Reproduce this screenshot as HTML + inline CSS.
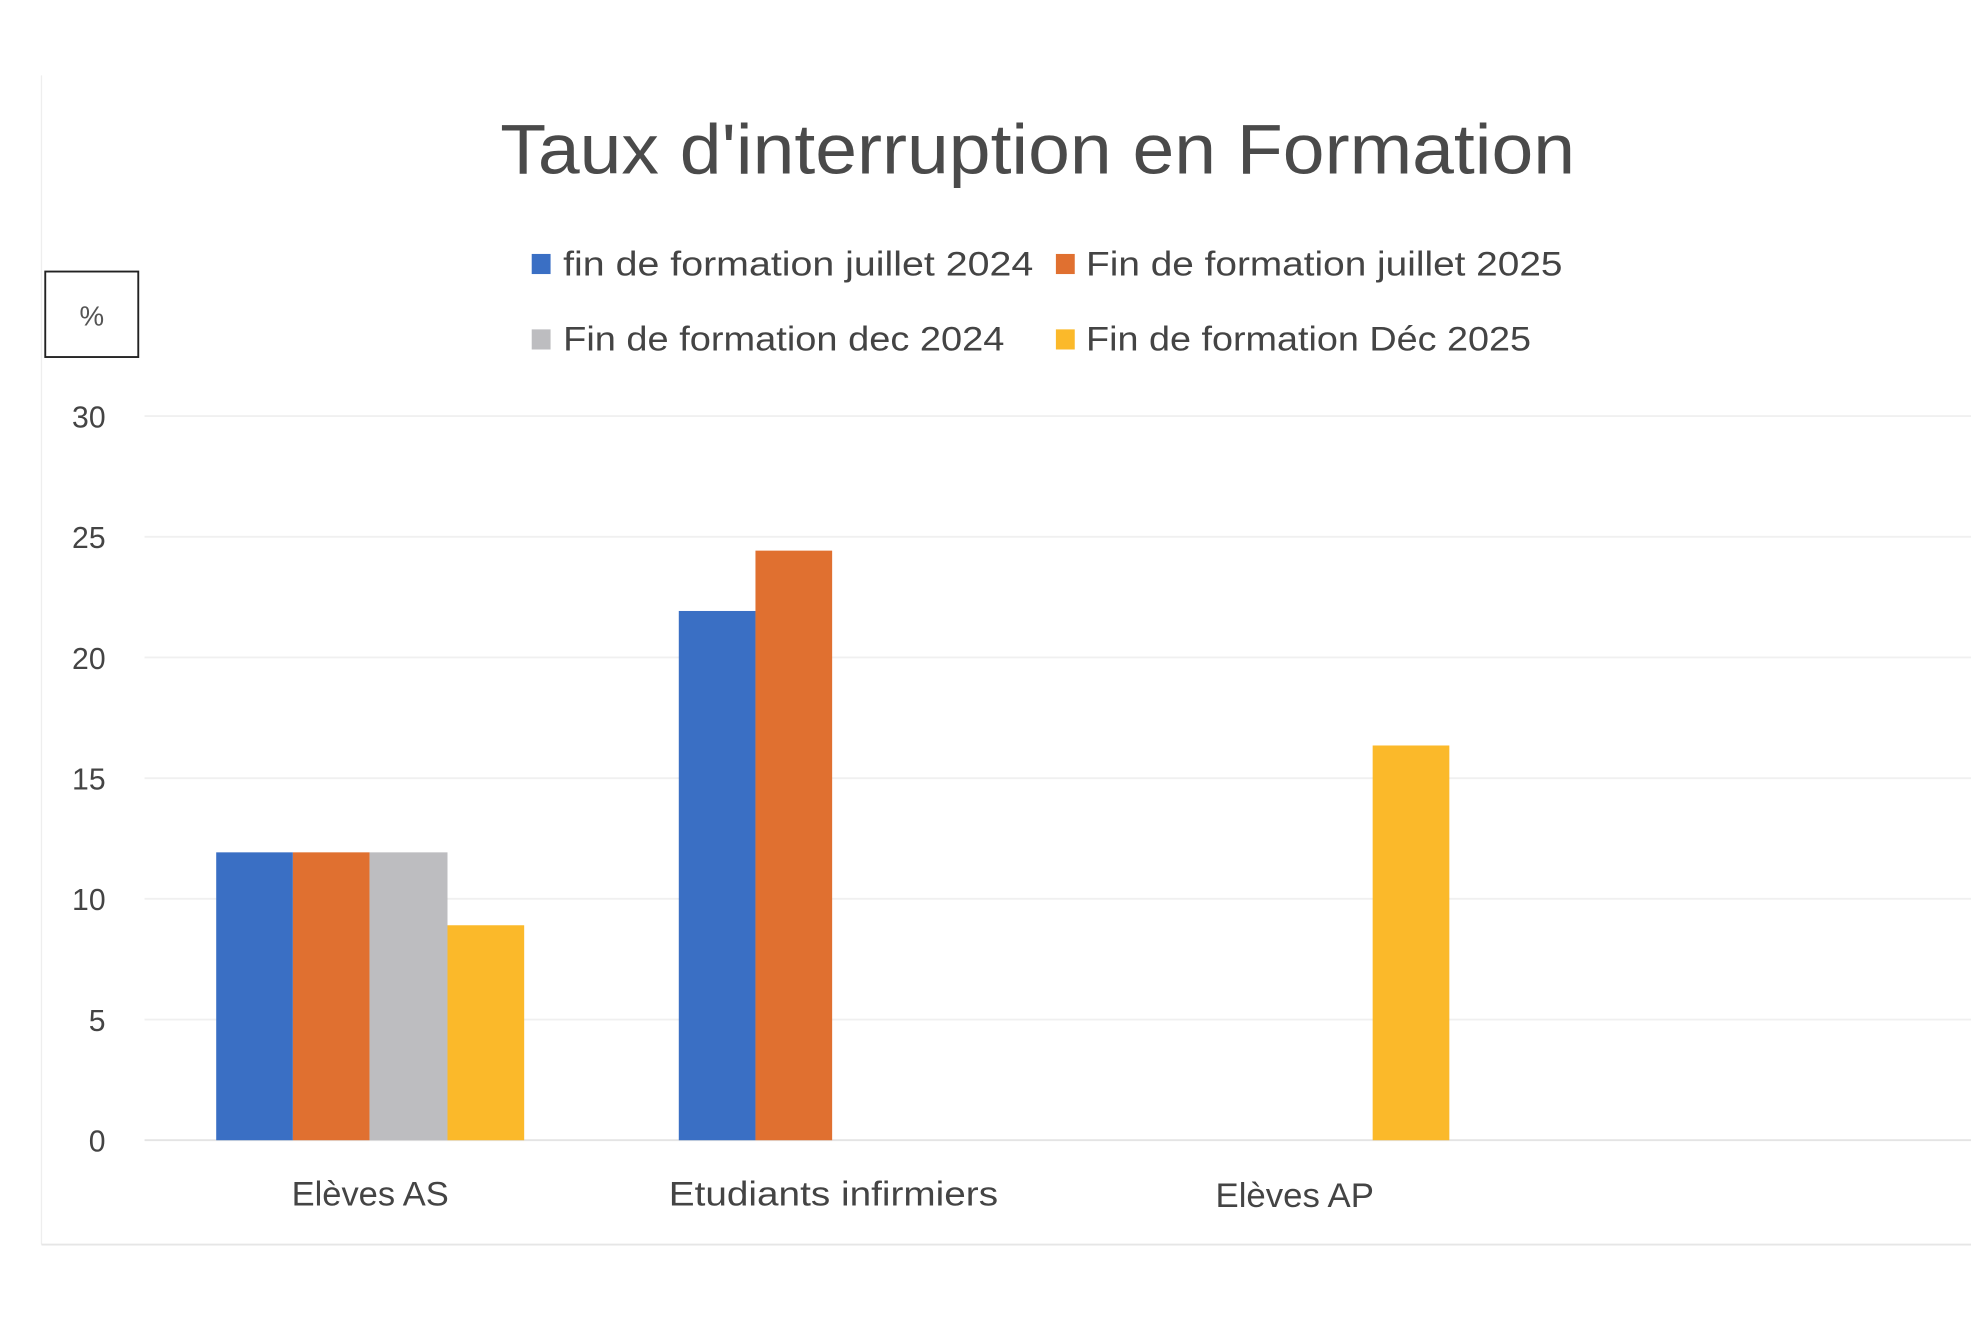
<!DOCTYPE html>
<html><head><meta charset="utf-8"><style>html,body{margin:0;padding:0;background:#fff}svg{display:block}</style></head>
<body>
<svg width="1971" height="1320" viewBox="0 0 1568 1050" preserveAspectRatio="none" xmlns="http://www.w3.org/2000/svg" font-family="Liberation Sans, DejaVu Sans, sans-serif">
<rect width="1568" height="1050" fill="#fff"/>
<line x1="33" y1="60" x2="33" y2="990" stroke="#eee" stroke-width="1"/>
<line x1="33" y1="990" x2="1568" y2="990" stroke="#e6e6e6" stroke-width="1.5"/>
<text x="398" y="138" font-size="56" fill="#4a4a4a" textLength="855" lengthAdjust="spacingAndGlyphs">Taux d'interruption en Formation</text>
<rect x="423" y="202" width="15" height="16" fill="#3a6fc4"/>
<text x="448" y="219" font-size="27" fill="#444" textLength="374" lengthAdjust="spacingAndGlyphs">fin de formation juillet 2024</text>
<rect x="840" y="202" width="15" height="16" fill="#e07030"/>
<text x="864" y="219" font-size="27" fill="#444" textLength="379" lengthAdjust="spacingAndGlyphs">Fin de formation juillet 2025</text>
<rect x="423" y="262" width="15" height="16" fill="#bdbdc0"/>
<text x="448" y="279" font-size="27" fill="#444" textLength="351" lengthAdjust="spacingAndGlyphs">Fin de formation dec 2024</text>
<rect x="840" y="262" width="15" height="16" fill="#fbb92a"/>
<text x="864" y="279" font-size="27" fill="#444" textLength="354" lengthAdjust="spacingAndGlyphs">Fin de formation Déc 2025</text>
<rect x="36" y="216" width="74" height="68" fill="none" stroke="#222" stroke-width="1.5"/>
<text x="73" y="259" font-size="22" fill="#555" text-anchor="middle">%</text>
<g stroke="#f0f0f0" stroke-width="1.5">
<line x1="115" y1="331" x2="1568" y2="331"/><line x1="115" y1="427" x2="1568" y2="427"/>
<line x1="115" y1="523" x2="1568" y2="523"/><line x1="115" y1="619" x2="1568" y2="619"/>
<line x1="115" y1="715" x2="1568" y2="715"/><line x1="115" y1="811" x2="1568" y2="811"/>
</g>
<line x1="115" y1="907" x2="1568" y2="907" stroke="#e4e4e4" stroke-width="1.5"/>
<g font-size="24" fill="#444" text-anchor="end">
<text x="84" y="340">30</text><text x="84" y="436">25</text><text x="84" y="532">20</text>
<text x="84" y="628">15</text><text x="84" y="724">10</text><text x="84" y="820">5</text><text x="84" y="916">0</text>
</g>
<rect x="172" y="678" width="61" height="229" fill="#3a6fc4"/>
<rect x="233" y="678" width="61" height="229" fill="#e07030"/>
<rect x="294" y="678" width="62" height="229" fill="#bdbdc0"/>
<rect x="356" y="736" width="61" height="171" fill="#fbb92a"/>
<rect x="540" y="486" width="61" height="421" fill="#3a6fc4"/>
<rect x="601" y="438" width="61" height="469" fill="#e07030"/>
<rect x="1092" y="593" width="61" height="314" fill="#fbb92a"/>
<g font-size="27" fill="#444">
<text x="232" y="959" textLength="125" lengthAdjust="spacingAndGlyphs">Elèves AS</text>
<text x="532" y="959" textLength="262" lengthAdjust="spacingAndGlyphs">Etudiants infirmiers</text>
<text x="967" y="960" textLength="126" lengthAdjust="spacingAndGlyphs">Elèves AP</text>
</g>
</svg>
</body></html>
